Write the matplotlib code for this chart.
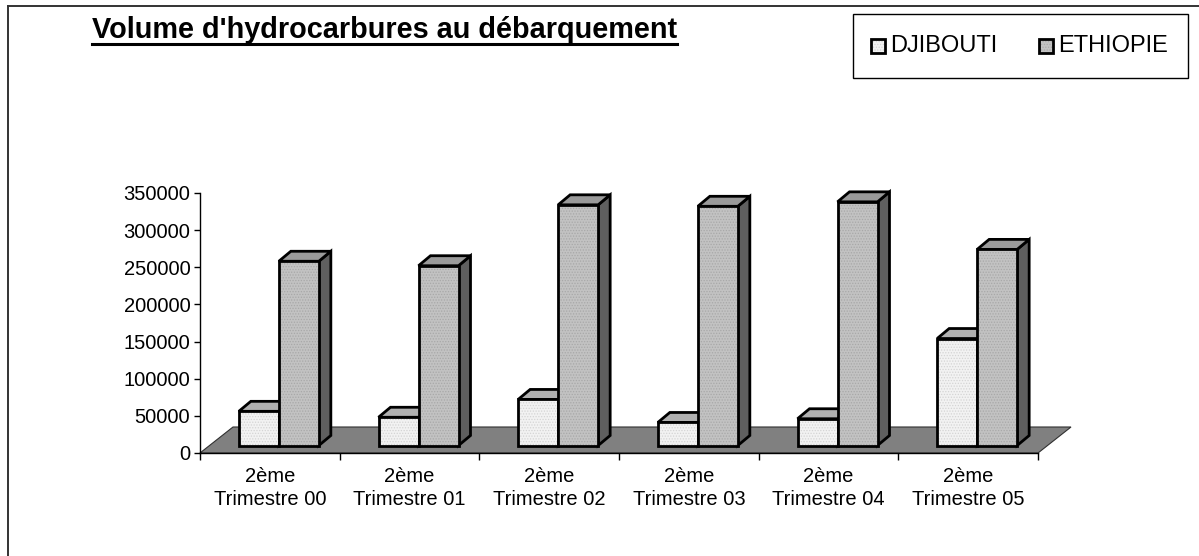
import matplotlib
matplotlib.use("Agg")
from matplotlib import pyplot as plt
from matplotlib.patches import Polygon, Rectangle
from matplotlib.lines import Line2D

plt.rcParams['font.family'] = ['Liberation Sans', 'DejaVu Sans']
plt.rcParams['hatch.linewidth'] = 0.6

categories = ["2ème\nTrimestre 00", "2ème\nTrimestre 01", "2ème\nTrimestre 02",
              "2ème\nTrimestre 03", "2ème\nTrimestre 04", "2ème\nTrimestre 05"]
djibouti = [46000, 38000, 62000, 31000, 36000, 144000]
ethiopie = [248000, 242000, 324000, 322000, 328000, 264000]
series_names = ["DJIBOUTI", "ETHIOPIE"]
y_ticks = [0, 50000, 100000, 150000, 200000, 250000, 300000, 350000]

W, H, DPI = 1199, 556, 100
fig = plt.figure(figsize=(W / DPI, H / DPI), dpi=DPI)

# axes box in pixels (from the top-left corner of the picture)
ax_l, ax_r, ax_t, ax_b = 200, 1038, 193, 453
ax = fig.add_axes([ax_l / W, 1 - ax_b / H, (ax_r - ax_l) / W, (ax_b - ax_t) / H])
n = len(categories)
ax.set_xlim(-0.5, n - 0.5)
ax.set_ylim(0, 350000)

# data units per pixel, used for the fake 3d depth
ppx = n / (ax_r - ax_l)
ppy = 350000 / (ax_b - ax_t)

floor_dx, floor_dy = 33 * ppx, 26 * ppy
front_dx, front_dy = 9 * ppx, 7.5 * ppy
bar_dx, bar_dy = 12 * ppx, 10 * ppy
bar_w = 40 * ppx

# floor
floor = Polygon([(-0.5, 0), (n - 0.5, 0), (n - 0.5 + floor_dx, floor_dy), (-0.5 + floor_dx, floor_dy)],
                closed=True, facecolor="#808080", edgecolor="#303030", lw=0.8, clip_on=False, zorder=1)
ax.add_patch(floor)

styles = [
    {"front": "#f2f2f2", "top": "#b0b0b0", "side": "#707070", "hatch_c": "#d4d4d4"},
    {"front": "#c2c2c2", "top": "#9a9a9a", "side": "#5f5f5f", "hatch_c": "#a8a8a8"},
]

for i in range(n):
    for j, vals in enumerate([djibouti, ethiopie]):
        st = styles[j]
        x0 = i - bar_w + j * bar_w + front_dx
        base = front_dy
        top = vals[i] + front_dy
        z = 2 + j
        side = Polygon([(x0 + bar_w, base), (x0 + bar_w + bar_dx, base + bar_dy),
                        (x0 + bar_w + bar_dx, top + bar_dy), (x0 + bar_w, top)],
                       closed=True, facecolor=st["side"], edgecolor="black", lw=2,
                       joinstyle="miter", clip_on=False, zorder=z)
        ax.add_patch(side)
        lid = Polygon([(x0, top), (x0 + bar_w, top), (x0 + bar_w + bar_dx, top + bar_dy), (x0 + bar_dx, top + bar_dy)],
                      closed=True, facecolor=st["top"], edgecolor="black", lw=2,
                      joinstyle="miter", clip_on=False, zorder=z)
        ax.add_patch(lid)
        # dotted fill first, then the black outline on top
        ax.bar(x0, vals[i], width=bar_w, bottom=base, align="edge", color=st["front"],
               edgecolor=st["hatch_c"], lw=0, hatch="......", clip_on=False, zorder=z)
        ax.bar(x0, vals[i], width=bar_w, bottom=base, align="edge", fill=False,
               edgecolor="black", lw=2, clip_on=False, zorder=z)

for s in ["top", "right"]:
    ax.spines[s].set_visible(False)
ax.spines["left"].set_linewidth(1)
ax.spines["bottom"].set_linewidth(1)
ax.spines["bottom"].set_zorder(1.5)

ax.set_yticks(y_ticks)
ax.set_yticklabels([str(v) for v in y_ticks], fontsize=14.5)
ax.tick_params(axis="y", length=4, width=1, pad=3)
ax.set_xticks(range(n))
ax.set_xticklabels(categories, fontsize=14.5, linespacing=1.3)
ax.tick_params(axis="x", length=0, pad=10)
ax.set_xticks([k - 0.5 for k in range(n + 1)], minor=True)
ax.tick_params(axis="x", which="minor", length=5, width=1)

# title
title = fig.text(92 / W, 1 - 38.5 / H, "Volume d'hydrocarbures au débarquement",
                 fontsize=20.8, fontweight="bold", ha="left", va="baseline")
fig.canvas.draw()
bb = title.get_window_extent()
uy = 1 - 43.5 / H
fig.add_artist(Line2D([bb.x0 / W, bb.x1 / W], [uy, uy], color="black", lw=2.2))

# legend
fig.add_artist(Rectangle((853 / W, 1 - 78 / H), 335 / W, 64 / H, facecolor="white",
                         edgecolor="black", lw=1, transform=fig.transFigure))
leg_x = [871, 1039]
for j, name in enumerate(series_names):
    st = styles[j]
    fig.add_artist(Rectangle((leg_x[j] / W, 1 - 53 / H), 14 / W, 14 / H, facecolor=st["front"],
                             edgecolor=st["hatch_c"], lw=0, hatch="......", transform=fig.transFigure))
    fig.add_artist(Rectangle((leg_x[j] / W, 1 - 53 / H), 14 / W, 14 / H, fill=False,
                             edgecolor="black", lw=2, transform=fig.transFigure))
    fig.text((leg_x[j] + 19) / W, 1 - 46 / H, name, fontsize=17, ha="left", va="center")

# outer frame of the chart
fig.add_artist(Line2D([7.5 / W, 1], [1 - 5.5 / H, 1 - 5.5 / H], color="#333333", lw=1.4))
fig.add_artist(Line2D([7.5 / W, 7.5 / W], [0, 1 - 5.5 / H], color="#333333", lw=1.4))

fig.savefig("out.png", dpi=DPI)
